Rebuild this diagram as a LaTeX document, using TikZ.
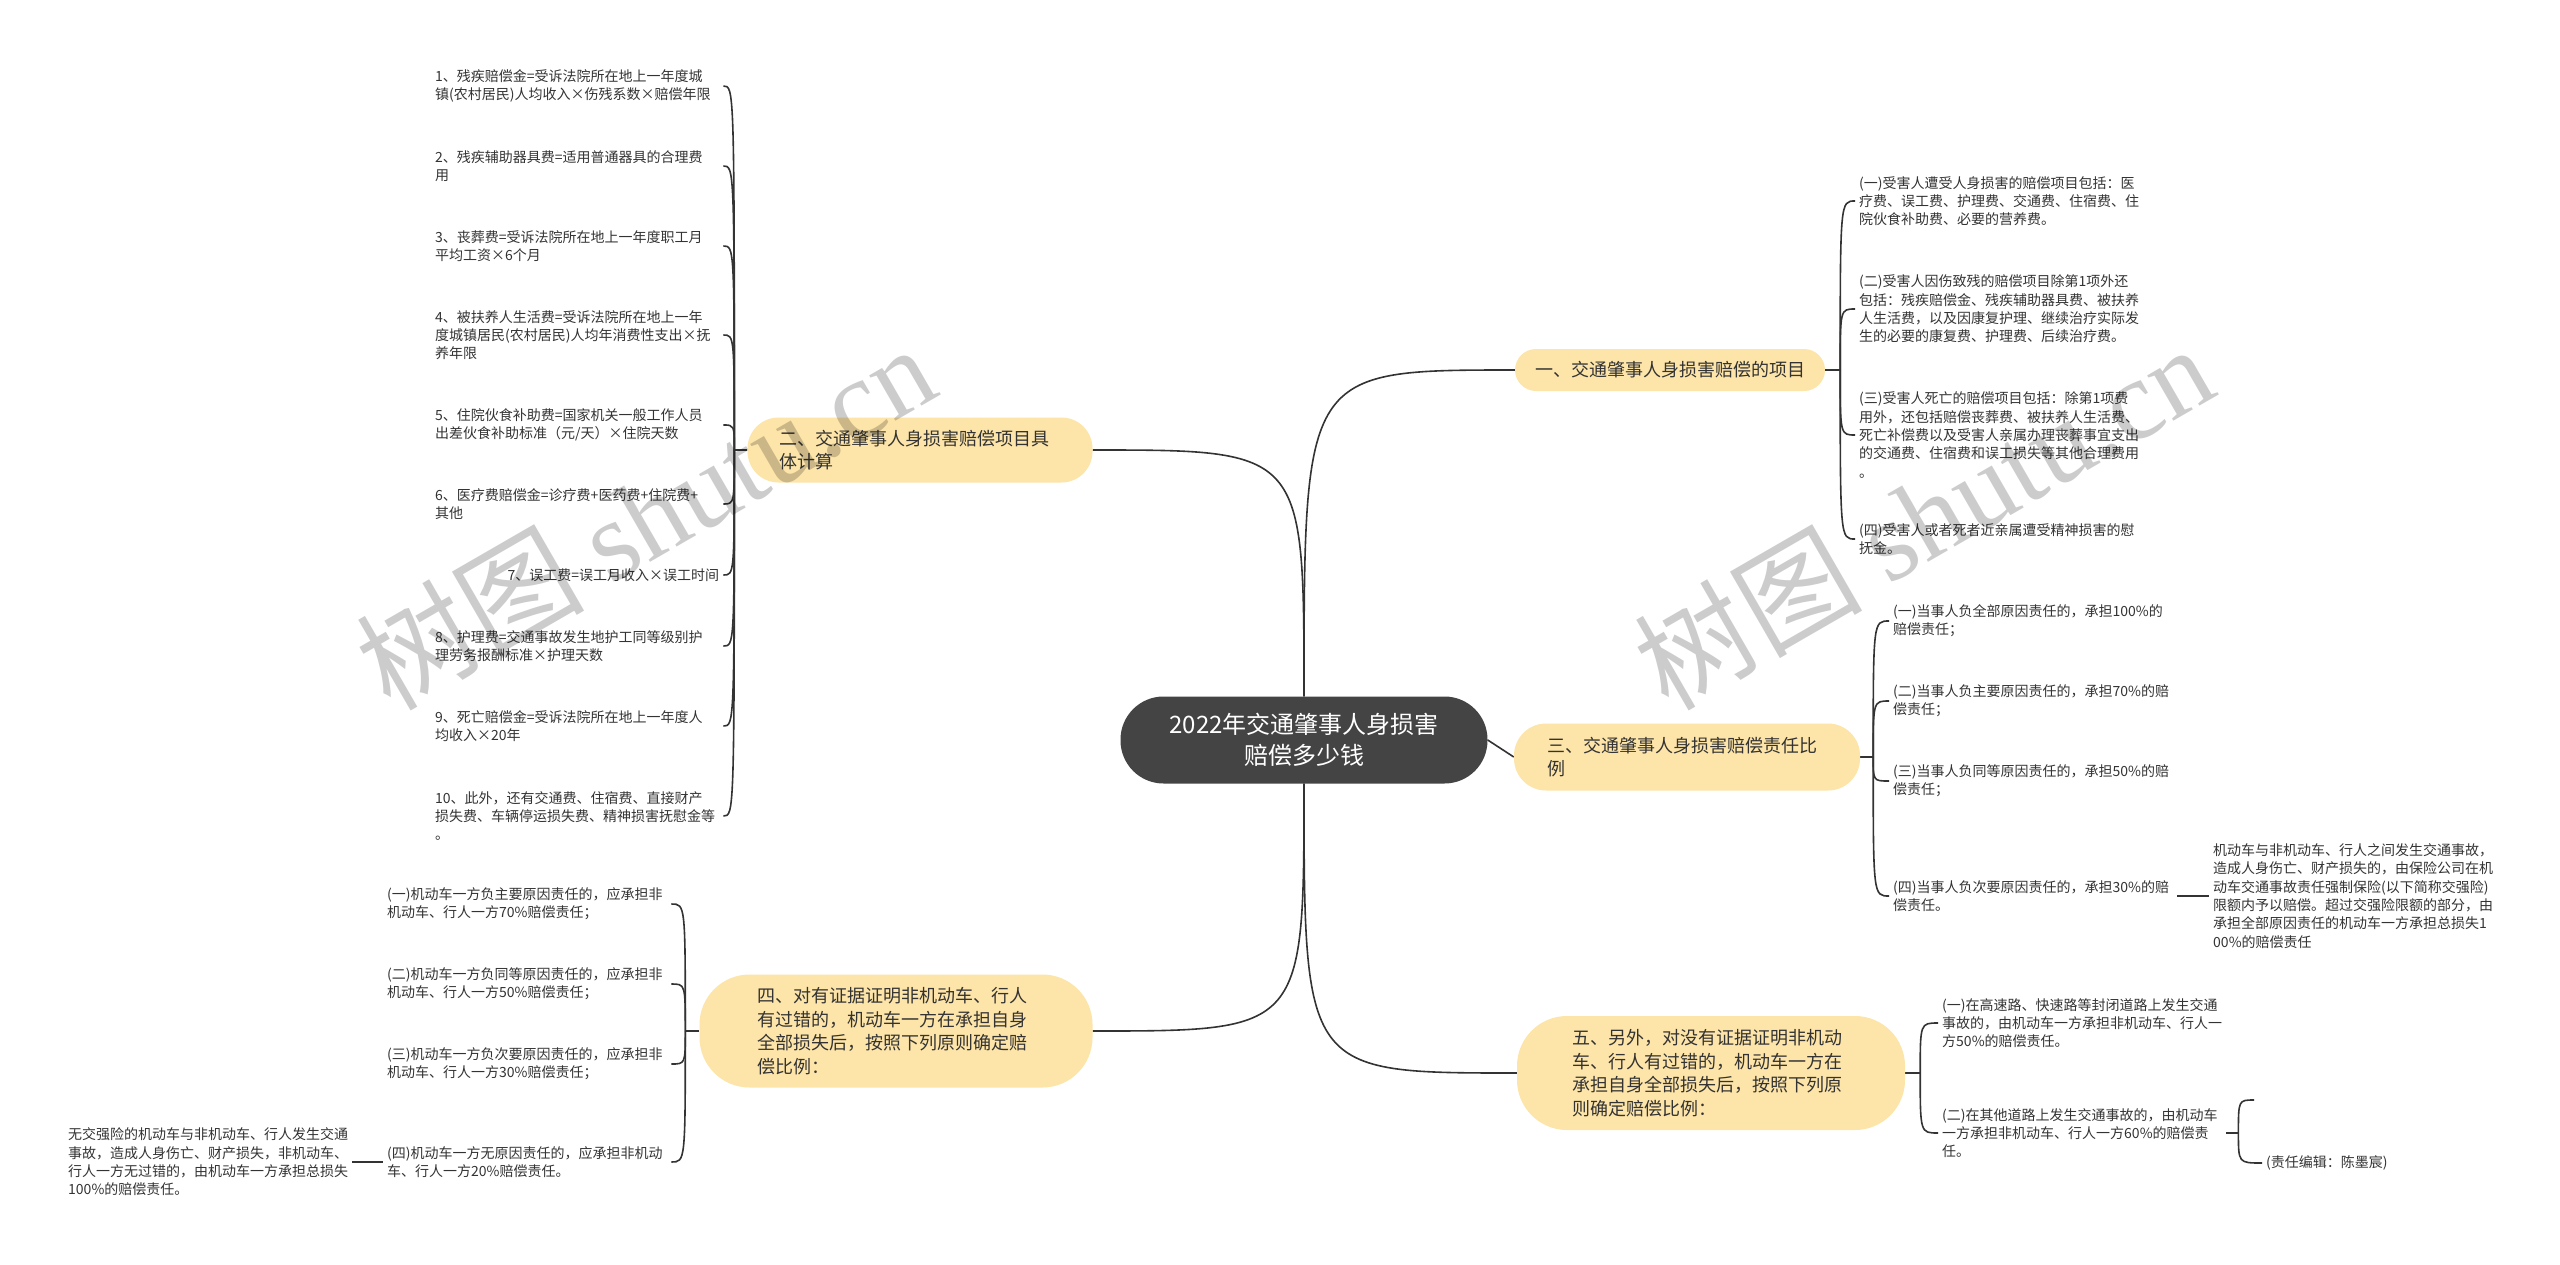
\documentclass[tikz,border=0pt]{standalone}
\usepackage{fontspec}
\setmainfont{Noto Sans CJK SC}
\newfontfamily\wmlatin{Liberation Serif}
\usepackage{tikz}
\usetikzlibrary{backgrounds}
\definecolor{rootgray}{RGB}{68,68,68}
\definecolor{branchyellow}{RGB}{253,228,168}
\definecolor{linegray}{RGB}{51,51,51}
\definecolor{textgray}{RGB}{51,51,51}

\tikzset{
	rootnode/.style={fill=rootgray,text=white,rounded corners=43pt,minimum width=367pt,minimum height=87pt,align=center,font=\fontsize{24}{31}\selectfont},
	branchnode/.style={fill=branchyellow,text=textgray,align=left,inner ysep=0pt,font=\fontsize{18}{23.5}\selectfont},
	leafnode/.style={anchor=west,text width=280pt,inner sep=4pt,align=left,text=textgray,font=\fontsize{14}{18.3}\selectfont},
	link/.style={draw=linegray,line width=1.6pt},
	watermark/.style={rotate=30,text=black,opacity=0.2,font=\fontsize{114}{114}\selectfont}
}

\begin{document}
\begin{tikzpicture}[x=1pt,y=-1pt]
	\useasboundingbox (0,0) rectangle (2560,1264);

	\node[rootnode] (root) at (1304,740) {2022年交通肇事人身损害\\赔偿多少钱};

	% main branches
	\node[branchnode,rounded corners=21pt,minimum height=42pt,inner xsep=20pt,text width=270pt] (b1) at (1670,370) {一、交通肇事人身损害赔偿的项目};
	\node[branchnode,rounded corners=31pt,minimum height=65pt,inner xsep=32pt,text width=281pt] (b2) at (920,450) {二、交通肇事人身损害赔偿项目具\\体计算};
	\node[branchnode,rounded corners=32pt,minimum height=67pt,inner xsep=33pt,text width=280pt] (b3) at (1687,757) {三、交通肇事人身损害赔偿责任比\\例};
	\node[branchnode,rounded corners=50pt,minimum height=113pt,inner xsep=58pt,text width=277pt] (b4) at (896,1031) {四、对有证据证明非机动车、行人\\有过错的，机动车一方在承担自身\\全部损失后，按照下列原则确定赔\\偿比例：};
	\node[branchnode,rounded corners=50pt,minimum height=114pt,inner xsep=55pt,text width=278pt] (b5) at (1711,1073) {五、另外，对没有证据证明非机动\\车、行人有过错的，机动车一方在\\承担自身全部损失后，按照下列原\\则确定赔偿比例：};

	% items of branch one
	\node[leafnode] (item1) at (1855,201) {(一)受害人遭受人身损害的赔偿项目包括：医\\疗费、误工费、护理费、交通费、住宿费、住\\院伙食补助费、必要的营养费。};
	\node[leafnode] (item2) at (1855,309) {(二)受害人因伤致残的赔偿项目除第1项外还\\包括：残疾赔偿金、残疾辅助器具费、被扶养\\人生活费，以及因康复护理、继续治疗实际发\\生的必要的康复费、护理费、后续治疗费。};
	\node[leafnode] (item3) at (1855,435) {(三)受害人死亡的赔偿项目包括：除第1项费\\用外，还包括赔偿丧葬费、被扶养人生活费、\\死亡补偿费以及受害人亲属办理丧葬事宜支出\\的交通费、住宿费和误工损失等其他合理费用\\。};
	\node[leafnode] (item4) at (1855,539) {(四)受害人或者死者近亲属遭受精神损害的慰\\抚金。};

	% cost items of branch two
	\node[leafnode,text width=284pt] (cost1) at (431,86) {1、残疾赔偿金=受诉法院所在地上一年度城\\镇(农村居民)人均收入×伤残系数×赔偿年限};
	\node[leafnode,text width=284pt] (cost2) at (431,166) {2、残疾辅助器具费=适用普通器具的合理费\\用};
	\node[leafnode,text width=284pt] (cost3) at (431,246) {3、丧葬费=受诉法院所在地上一年度职工月\\平均工资×6个月};
	\node[leafnode,text width=284pt] (cost4) at (431,335) {4、被扶养人生活费=受诉法院所在地上一年\\度城镇居民(农村居民)人均年消费性支出×抚\\养年限};
	\node[leafnode,text width=284pt] (cost5) at (431,425) {5、住院伙食补助费=国家机关一般工作人员\\出差伙食补助标准（元/天）×住院天数};
	\node[leafnode,text width=284pt] (cost6) at (431,504) {6、医疗费赔偿金=诊疗费+医药费+住院费+\\其他};
	\node[leafnode,text width=284pt,align=right] (cost7) at (431,575) {7、误工费=误工月收入×误工时间};
	\node[leafnode,text width=284pt] (cost8) at (431,646) {8、护理费=交通事故发生地护工同等级别护\\理劳务报酬标准×护理天数};
	\node[leafnode,text width=284pt] (cost9) at (431,726) {9、死亡赔偿金=受诉法院所在地上一年度人\\均收入×20年};
	\node[leafnode,text width=284pt] (cost10) at (431,816) {10、此外，还有交通费、住宿费、直接财产\\损失费、车辆停运损失费、精神损害抚慰金等\\。};

	% ratios of branch three
	\node[leafnode] (ratio1) at (1889,621) {(一)当事人负全部原因责任的，承担100\%的\\赔偿责任；};
	\node[leafnode] (ratio2) at (1889,701) {(二)当事人负主要原因责任的，承担70\%的赔\\偿责任；};
	\node[leafnode] (ratio3) at (1889,781) {(三)当事人负同等原因责任的，承担50\%的赔\\偿责任；};
	\node[leafnode] (ratio4) at (1889,896) {(四)当事人负次要原因责任的，承担30\%的赔\\偿责任。};
	\node[leafnode,text width=288pt] (ratio4note) at (2209,896) {机动车与非机动车、行人之间发生交通事故，\\造成人身伤亡、财产损失的，由保险公司在机\\动车交通事故责任强制保险(以下简称交强险)\\限额内予以赔偿。超过交强险限额的部分，由\\承担全部原因责任的机动车一方承担总损失1\\00\%的赔偿责任};

	% proofs of branch four
	\node[leafnode] (proof1) at (383,904) {(一)机动车一方负主要原因责任的，应承担非\\机动车、行人一方70\%赔偿责任；};
	\node[leafnode] (proof2) at (383,984) {(二)机动车一方负同等原因责任的，应承担非\\机动车、行人一方50\%赔偿责任；};
	\node[leafnode] (proof3) at (383,1064) {(三)机动车一方负次要原因责任的，应承担非\\机动车、行人一方30\%赔偿责任；};
	\node[leafnode] (proof4) at (383,1162) {(四)机动车一方无原因责任的，应承担非机动\\车、行人一方20\%赔偿责任。};
	\node[leafnode] (proof4note) at (64,1162) {无交强险的机动车与非机动车、行人发生交通\\事故，造成人身伤亡、财产损失，非机动车、\\行人一方无过错的，由机动车一方承担总损失\\100\%的赔偿责任。};

	% roads of branch five
	\node[leafnode] (road1) at (1938,1023) {(一)在高速路、快速路等封闭道路上发生交通\\事故的，由机动车一方承担非机动车、行人一\\方50\%的赔偿责任。};
	\node[leafnode] (road2) at (1938,1133) {(二)在其他道路上发生交通事故的，由机动车\\一方承担非机动车、行人一方60\%的赔偿责\\任。};
	\node[leafnode,text width=] (editor) at (2262,1163) {(责任编辑：陈墨宸)};
	\coordinate (blank) at (2254,1100);

	% spine points
	\coordinate (s1) at ([xshift=15pt]b1.east);
	\coordinate (s2) at ([xshift=-13pt]b2.west);
	\coordinate (s3) at ([xshift=13pt]b3.east);
	\coordinate (s4) at ([xshift=-14pt]b4.west);
	\coordinate (s5) at ([xshift=15pt]b5.east);
	\coordinate (s6) at ([xshift=12pt]road2.east);

	\begin{scope}[on background layer]
		\draw[link] (root.north) .. controls (root.north |- b1.west) .. (b1.west);
		\draw[link] (root.north) .. controls (root.north |- b2.east) .. (b2.east);
		\draw[link] (root.east) -- (b3.west);
		\draw[link] (root.south) .. controls (root.south |- b4.east) .. (b4.east);
		\draw[link] (root.south) .. controls (root.south |- b5.west) .. (b5.west);

		\draw[link] (b1.east) -- (s1);
		\draw[link] (b2.west) -- (s2);
		\draw[link] (b3.east) -- (s3);
		\draw[link] (b4.west) -- (s4);
		\draw[link] (b5.east) -- (s5);

		\foreach \i in {1,...,4}
			\draw[link] (s1) .. controls (s1 |- item\i.west) .. (item\i.west);
		\foreach \i in {1,...,10}
			\draw[link] (s2) .. controls (s2 |- cost\i.east) .. (cost\i.east);
		\foreach \i in {1,...,4}
			\draw[link] (s3) .. controls (s3 |- ratio\i.west) .. (ratio\i.west);
		\foreach \i in {1,...,4}
			\draw[link] (s4) .. controls (s4 |- proof\i.east) .. (proof\i.east);
		\foreach \i in {1,2}
			\draw[link] (s5) .. controls (s5 |- road\i.west) .. (road\i.west);

		\draw[link] (ratio4.east) -- (ratio4note.west);
		\draw[link] (proof4note.east) -- (proof4.west);
		\draw[link] (road2.east) -- (s6);
		\draw[link] (s6) .. controls (s6 |- blank) .. (blank);
		\draw[link] (s6) .. controls (s6 |- editor.west) .. (editor.west);
	\end{scope}

	% watermarks
	\node[watermark] (wm1) at (645,516) {树图 {\wmlatin shutu.cn}};
	\node[watermark] (wm2) at (1923,516) {树图 {\wmlatin shutu.cn}};
\end{tikzpicture}
\end{document}
